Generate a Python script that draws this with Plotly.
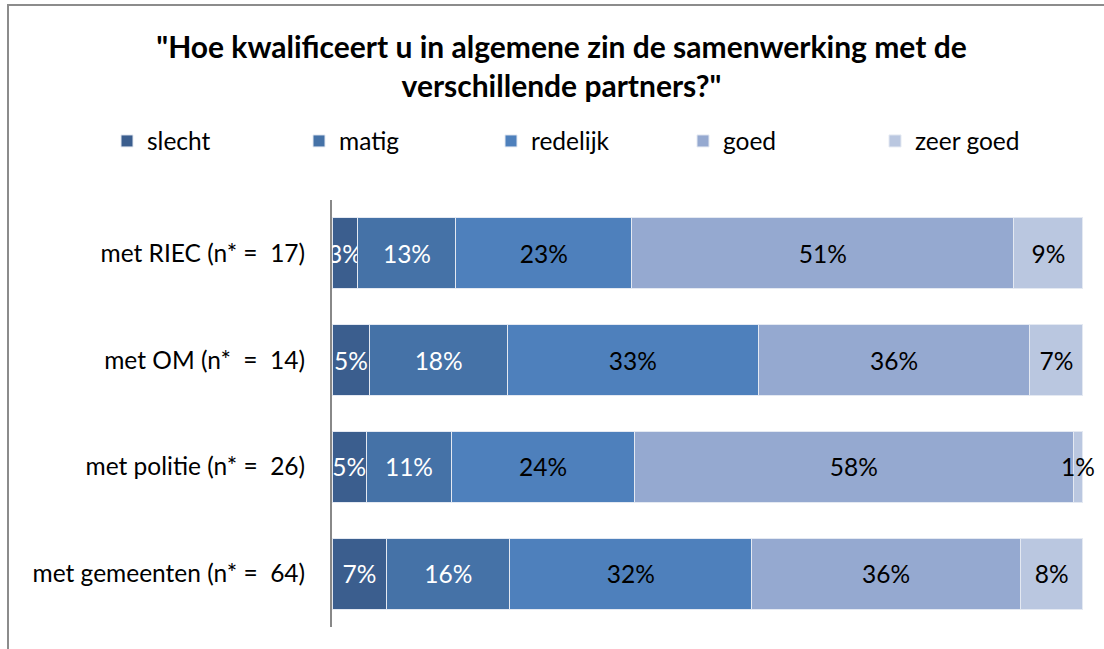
import plotly.graph_objects as go

categories = ["met RIEC (n* = \u00a017)", "met OM (n* \u00a0= \u00a014)", "met politie (n* = \u00a026)", "met gemeenten (n* = \u00a064)"]
series_names = ["slecht", "matig", "redelijk", "goed", "zeer goed"]
slecht = [3.46, 5.06, 4.6, 7.3]
matig = [13.05, 18.3, 11.3, 16.4]
redelijk = [23.4, 33.4, 24.4, 32.2]
goed = [50.9, 36.2, 58.4, 35.8]
zeer_goed = [9.19, 7.04, 1.3, 8.3]
series_values = [slecht, matig, redelijk, goed, zeer_goed]
colors = ["#3B5E8E", "#4572A7", "#4E80BC", "#95A9D0", "#BAC7E0"]
text_colors = ["white", "white", "black", "black", "black"]

FONT = "Lato"
FS = 24.5

fig = go.Figure()
for name, vals, col, tcol in zip(series_names, series_values, colors, text_colors):
    fig.add_trace(go.Bar(
        y=categories, x=vals, name=name, orientation="h",
        marker=dict(color=col, line=dict(color="#E4E9F2", width=1)),
        text=[f"{round(v)}%" for v in vals],
        textposition="inside", insidetextanchor="middle", textangle=0,
        constraintext="none", cliponaxis=False,
        textfont=dict(color=tcol, size=FS, family=FONT),
        hoverinfo="skip",
    ))

fig.update_layout(
    barmode="stack", bargap=0.335,
    width=1104, height=649,
    margin=dict(l=332, r=21, t=200, b=22),
    paper_bgcolor="white", plot_bgcolor="white",
    font=dict(family=FONT, size=FS, color="black"),
    title=dict(
        text="\"Hoe kwalificeert u in algemene zin de samenwerking met de<br>verschillende partners?\"",
        x=0.5086, xanchor="center", y=1 - 58 / 649, yanchor="middle",
        font=dict(family=FONT, size=30, color="black", weight="bold"),
    ),
    legend=dict(
        orientation="h", x=(107 - 332) / 751, xanchor="left", y=(627 - 141) / 427, yanchor="middle",
        font=dict(family=FONT, size=FS), entrywidth=147, entrywidthmode="pixels",
        traceorder="normal", itemclick=False,
    ),
    showlegend=True,
    xaxis=dict(range=[0, 100.02], visible=False, fixedrange=True),
    yaxis=dict(
        autorange="reversed", showline=True, linecolor="#888888", linewidth=2,
        ticks="", showgrid=False, ticklabelstandoff=20,
        tickfont=dict(family=FONT, size=FS, color="black"),
    ),
    shapes=[dict(type="rect", xref="paper", yref="paper",
                 x0=(8 - 332) / 751, x1=1.2, y0=-0.2, y1=(627 - 5) / 427,
                 line=dict(color="#8C8C8C", width=2), layer="below")],
)

fig.write_html("out.html", config={"displayModeBar": False},
               post_script="document.body.style.margin='0';document.body.style.overflow='hidden';")
